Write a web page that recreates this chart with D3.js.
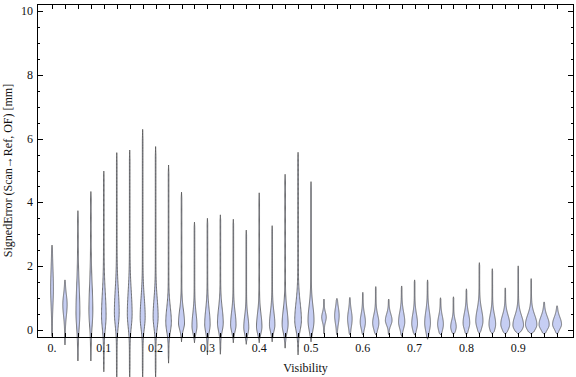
<!DOCTYPE html>
<html>
<head>
<meta charset="utf-8">
<script src="https://cdn.jsdelivr.net/npm/d3@7"></script>
<style>
  html, body { margin: 0; padding: 0; background: #fff; }
  svg { display: block; font-family: "Liberation Serif", "Times New Roman", serif; }
</style>
</head>
<body>
<div id="chart"></div>
<script>
// visibility bins (one violin per bin)
const visibility = [0, 0.025, 0.05, 0.075, 0.1, 0.125, 0.15, 0.175, 0.2, 0.225,
  0.25, 0.275, 0.3, 0.325, 0.35, 0.375, 0.4, 0.425, 0.45, 0.475,
  0.5, 0.525, 0.55, 0.575, 0.6, 0.625, 0.65, 0.675, 0.7, 0.725,
  0.75, 0.775, 0.8, 0.825, 0.85, 0.875, 0.9, 0.925, 0.95, 0.975];

// signed error range per bin [mm]
const errMax = [2.66, 1.57, 3.74, 4.34, 4.98, 5.56, 5.64, 6.29, 5.75, 5.17,
  4.32, 3.38, 3.50, 3.61, 3.47, 3.13, 4.30, 3.27, 4.88, 5.57,
  4.65, 0.97, 0.99, 1.02, 1.18, 1.36, 0.97, 1.38, 1.57, 1.57,
  1.01, 1.04, 1.29, 2.11, 1.92, 1.32, 2.01, 1.61, 0.88, 0.76];
const errMin = [-0.20, -0.47, -0.97, -0.97, -1.31, -1.50, -1.50, -1.50, -1.50, -1.04,
  -0.37, -0.40, -0.78, -0.76, -0.40, -0.45, -0.40, -0.37, -0.57, -0.78,
  -0.37, -0.12, -0.15, -0.15, -0.15, -0.15, -0.15, -0.20, -0.16, -0.29,
  -0.15, -0.13, -0.15, -0.13, -0.13, -0.13, -0.13, -0.13, -0.13, -0.13];

// where the density peaks, how wide it gets (relative), and how far it spreads
const errMode = [1.30, 0.80, 0.55, 0.60, 0.45, 0.55, 0.50, 0.40, 0.42, 0.25,
  0.22, 0.12, 0.18, 0.22, 0.16, 0.08, 0.10, 0.16, 0.18, 0.30,
  0.30, 0.40, 0.45, 0.35, 0.25, 0.22, 0.30, 0.25, 0.20, 0.22,
  0.18, 0.10, 0.22, 0.28, 0.18, 0.18, 0.15, 0.17, 0.17, 0.18];
const peakDensity = [0.20, 0.34, 0.30, 0.30, 0.36, 0.38, 0.38, 0.40, 0.40, 0.45,
  0.49, 0.40, 0.44, 0.47, 0.44, 0.40, 0.44, 0.44, 0.49, 0.55,
  0.49, 0.36, 0.36, 0.36, 0.42, 0.51, 0.55, 0.51, 0.47, 0.47,
  0.47, 0.45, 0.55, 0.60, 0.55, 0.76, 0.91, 0.98, 0.87, 0.76];
const spreadBelow = [0.50, 0.35, 0.45, 0.45, 0.40, 0.40, 0.40, 0.35, 0.35, 0.30,
  0.20, 0.20, 0.25, 0.25, 0.20, 0.20, 0.20, 0.20, 0.25, 0.30,
  0.30, 0.15, 0.25, 0.25, 0.20, 0.20, 0.15, 0.20, 0.20, 0.25,
  0.20, 0.15, 0.20, 0.22, 0.20, 0.18, 0.17, 0.18, 0.16, 0.15];
const spreadAbove = [0.60, 0.30, 0.80, 0.80, 0.70, 0.70, 0.70, 0.60, 0.55, 0.45,
  0.40, 0.40, 0.45, 0.45, 0.40, 0.35, 0.40, 0.40, 0.45, 0.55,
  0.45, 0.15, 0.25, 0.25, 0.25, 0.25, 0.20, 0.30, 0.30, 0.35,
  0.25, 0.20, 0.30, 0.35, 0.30, 0.28, 0.30, 0.30, 0.25, 0.22];

const xTickValues = [0, 0.1, 0.2, 0.3, 0.4, 0.5, 0.6, 0.7, 0.8, 0.9];
const xTickLabels = ['0.', '0.1', '0.2', '0.3', '0.4', '0.5', '0.6', '0.7', '0.8', '0.9'];
const yTickValues = [0, 2, 4, 6, 8, 10];
const yMinorValues = [0.5, 1, 1.5, 2.5, 3, 3.5, 4.5, 5, 5.5, 6.5, 7, 7.5, 8.5, 9, 9.5];

const width = 576;
const height = 377;
const plot = { left: 37, right: 574, top: 4, bottom: 337 };
const maxHalfWidth = 0.0106; // widest violin, in visibility units
const tailHalfWidth = 0.0006;

const x = d3.scaleLinear().domain([-0.029, 1.0077]).range([plot.left, plot.right]);
const y = d3.scaleLinear().domain([-0.22, 10.22]).range([plot.bottom, plot.top]);

const svg = d3.select('#chart')
  .append('svg')
  .attr('width', width)
  .attr('height', height)
  .attr('viewBox', `0 0 ${width} ${height}`);

// violins
const violins = visibility.map((v, i) => ({
  bin: v, lo: errMin[i], hi: errMax[i], mode: errMode[i],
  peak: peakDensity[i], below: spreadBelow[i], above: spreadAbove[i],
}));

function halfWidthAt(d, e) {
  const s = e < d.mode ? d.below : d.above;
  const g = Math.exp(-0.5 * ((e - d.mode) / s) ** 2);
  const span = d.hi - d.lo;
  const edge = Math.min(e - d.lo, d.hi - e) / (0.04 * span);
  const taper = Math.min(1, Math.max(0, edge));
  return (maxHalfWidth * d.peak * g + tailHalfWidth) * taper;
}

function profile(d) {
  const n = 160;
  return d3.range(n + 1).map(k => {
    const e = d.lo + (d.hi - d.lo) * k / n;
    return { e, w: halfWidthAt(d, e) };
  });
}

svg.append('g')
  .attr('class', 'violins')
  .selectAll('path')
  .data(violins)
  .enter().append('path')
  .attr('fill', '#c6cef3')
  .attr('stroke', '#505050')
  .attr('stroke-width', 0.8)
  .attr('stroke-linejoin', 'round')
  .attr('d', d => d3.area()
    .y(p => y(p.e))
    .x0(p => x(d.bin - p.w))
    .x1(p => x(d.bin + p.w))(profile(d)));

// frame
const frame = svg.append('g').attr('stroke', '#000').attr('stroke-width', 1).attr('fill', 'none');
frame.append('rect')
  .attr('x', plot.left + 0.5)
  .attr('y', plot.top + 0.5)
  .attr('width', plot.right - plot.left - 1)
  .attr('height', plot.bottom - plot.top);

// ticks at each bin, top and bottom, pointing inward
visibility.forEach(v => {
  const px = Math.round(x(v)) + 0.5;
  frame.append('line').attr('x1', px).attr('x2', px).attr('y1', plot.top).attr('y2', plot.top + 5);
  frame.append('line').attr('x1', px).attr('x2', px).attr('y1', plot.bottom).attr('y2', plot.bottom - 4);
});

// y ticks left and right
yTickValues.forEach(v => {
  const py = Math.round(y(v)) + 0.5;
  frame.append('line').attr('x1', plot.left).attr('x2', plot.left + 6).attr('y1', py).attr('y2', py);
  frame.append('line').attr('x1', plot.right).attr('x2', plot.right - 6).attr('y1', py).attr('y2', py);
});
yMinorValues.forEach(v => {
  const py = Math.round(y(v)) + 0.5;
  frame.append('line').attr('x1', plot.left).attr('x2', plot.left + 3).attr('y1', py).attr('y2', py);
  frame.append('line').attr('x1', plot.right).attr('x2', plot.right - 3).attr('y1', py).attr('y2', py);
});

// tick labels
svg.append('g')
  .selectAll('text')
  .data(xTickValues)
  .enter().append('text')
  .attr('x', d => x(d))
  .attr('y', 352)
  .attr('text-anchor', 'middle')
  .attr('font-size', 12)
  .attr('fill', '#111')
  .text((d, i) => xTickLabels[i]);

svg.append('g')
  .selectAll('text')
  .data(yTickValues)
  .enter().append('text')
  .attr('x', plot.left - 4)
  .attr('y', d => y(d) + 4)
  .attr('text-anchor', 'end')
  .attr('font-size', 12)
  .attr('fill', '#111')
  .text(d => d);

// axis titles
svg.append('text')
  .attr('x', (plot.left + plot.right) / 2)
  .attr('y', 372)
  .attr('text-anchor', 'middle')
  .attr('font-size', 12)
  .attr('fill', '#111')
  .text('Visibility');

svg.append('text')
  .attr('transform', `translate(12, ${(plot.top + plot.bottom) / 2}) rotate(-90)`)
  .attr('text-anchor', 'middle')
  .attr('font-size', 12)
  .attr('fill', '#111')
  .text('SignedError (Scan\u2192Ref, OF) [mm]');
</script>
</body>
</html>
